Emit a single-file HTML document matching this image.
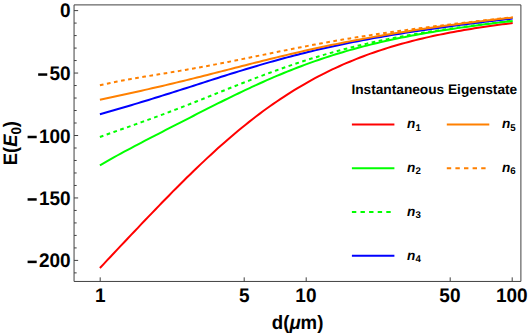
<!DOCTYPE html>
<html><head><meta charset="utf-8"><title>plot</title>
<style>html,body{margin:0;padding:0;background:#fff}svg{display:block}</style></head>
<body>
<svg width="528" height="334" viewBox="0 0 528 334">
<rect width="528" height="334" fill="#fff"/>
<g fill="none" stroke-width="2.0" stroke-linejoin="round">
<path d="M99.9,268.01 L103.4,264.32 L106.8,260.62 L110.3,256.94 L113.8,253.25 L117.2,249.57 L120.7,245.89 L124.2,242.22 L127.7,238.55 L131.1,234.89 L134.6,231.23 L138.1,227.58 L141.5,223.94 L145.0,220.31 L148.5,216.68 L151.9,213.07 L155.4,209.46 L158.9,205.88 L162.3,202.30 L165.8,198.74 L169.3,195.20 L172.7,191.68 L176.2,188.18 L179.7,184.71 L183.2,181.25 L186.6,177.82 L190.1,174.42 L193.6,171.05 L197.0,167.70 L200.5,164.39 L204.0,161.11 L207.4,157.86 L210.9,154.65 L214.4,151.47 L217.8,148.33 L221.3,145.23 L224.8,142.16 L228.2,139.14 L231.7,136.16 L235.2,133.22 L238.7,130.32 L242.1,127.47 L245.6,124.66 L249.1,121.90 L252.5,119.18 L256.0,116.51 L259.5,113.88 L262.9,111.31 L266.4,108.77 L269.9,106.29 L273.3,103.85 L276.8,101.46 L280.3,99.11 L283.8,96.82 L287.2,94.57 L290.7,92.36 L294.2,90.21 L297.6,88.10 L301.1,86.03 L304.6,84.01 L308.0,82.04 L311.5,80.11 L315.0,78.23 L318.4,76.39 L321.9,74.60 L325.4,72.84 L328.8,71.13 L332.3,69.47 L335.8,67.84 L339.3,66.25 L342.7,64.70 L346.2,63.20 L349.7,61.73 L353.1,60.30 L356.6,58.90 L360.1,57.54 L363.5,56.22 L367.0,54.93 L370.5,53.68 L373.9,52.46 L377.4,51.27 L380.9,50.11 L384.4,48.99 L387.8,47.89 L391.3,46.83 L394.8,45.79 L398.2,44.78 L401.7,43.80 L405.2,42.85 L408.6,41.92 L412.1,41.02 L415.6,40.14 L419.0,39.28 L422.5,38.45 L426.0,37.64 L429.4,36.85 L432.9,36.09 L436.4,35.34 L439.9,34.62 L443.3,33.91 L446.8,33.22 L450.3,32.55 L453.7,31.90 L457.2,31.27 L460.7,30.65 L464.1,30.05 L467.6,29.46 L471.1,28.89 L474.5,28.33 L478.0,27.79 L481.5,27.26 L484.9,26.74 L488.4,26.24 L491.9,25.75 L495.4,25.27 L498.8,24.80 L502.3,24.35 L505.8,23.90 L509.2,23.47 L512.7,23.04" stroke="#ff0000"/>
<path d="M99.9,165.46 L103.4,163.39 L106.8,161.37 L110.3,159.38 L113.8,157.43 L117.2,155.50 L120.7,153.60 L124.2,151.72 L127.7,149.86 L131.1,148.01 L134.6,146.18 L138.1,144.36 L141.5,142.54 L145.0,140.73 L148.5,138.93 L151.9,137.14 L155.4,135.35 L158.9,133.56 L162.3,131.77 L165.8,129.98 L169.3,128.20 L172.7,126.41 L176.2,124.63 L179.7,122.85 L183.2,121.07 L186.6,119.29 L190.1,117.52 L193.6,115.74 L197.0,113.97 L200.5,112.21 L204.0,110.44 L207.4,108.69 L210.9,106.94 L214.4,105.19 L217.8,103.45 L221.3,101.73 L224.8,100.01 L228.2,98.30 L231.7,96.60 L235.2,94.92 L238.7,93.25 L242.1,91.59 L245.6,89.95 L249.1,88.32 L252.5,86.71 L256.0,85.11 L259.5,83.53 L262.9,81.97 L266.4,80.44 L269.9,78.92 L273.3,77.42 L276.8,75.94 L280.3,74.48 L283.8,73.04 L287.2,71.63 L290.7,70.24 L294.2,68.87 L297.6,67.52 L301.1,66.20 L304.6,64.90 L308.0,63.63 L311.5,62.38 L315.0,61.15 L318.4,59.94 L321.9,58.76 L325.4,57.61 L328.8,56.47 L332.3,55.36 L335.8,54.27 L339.3,53.21 L342.7,52.17 L346.2,51.15 L349.7,50.15 L353.1,49.18 L356.6,48.23 L360.1,47.29 L363.5,46.38 L367.0,45.49 L370.5,44.62 L373.9,43.77 L377.4,42.94 L380.9,42.13 L384.4,41.33 L387.8,40.56 L391.3,39.80 L394.8,39.06 L398.2,38.33 L401.7,37.63 L405.2,36.93 L408.6,36.26 L412.1,35.59 L415.6,34.95 L419.0,34.31 L422.5,33.69 L426.0,33.08 L429.4,32.49 L432.9,31.91 L436.4,31.34 L439.9,30.78 L443.3,30.23 L446.8,29.69 L450.3,29.16 L453.7,28.64 L457.2,28.13 L460.7,27.63 L464.1,27.14 L467.6,26.66 L471.1,26.18 L474.5,25.71 L478.0,25.25 L481.5,24.80 L484.9,24.35 L488.4,23.91 L491.9,23.48 L495.4,23.05 L498.8,22.63 L502.3,22.22 L505.8,21.81 L509.2,21.40 L512.7,21.00" stroke="#00ff00"/>
<path d="M99.9,137.04 L103.4,135.76 L106.8,134.50 L110.3,133.26 L113.8,132.02 L117.2,130.79 L120.7,129.56 L124.2,128.34 L127.7,127.11 L131.1,125.89 L134.6,124.66 L138.1,123.42 L141.5,122.18 L145.0,120.94 L148.5,119.68 L151.9,118.42 L155.4,117.15 L158.9,115.87 L162.3,114.58 L165.8,113.28 L169.3,111.97 L172.7,110.66 L176.2,109.33 L179.7,108.00 L183.2,106.66 L186.6,105.31 L190.1,103.95 L193.6,102.58 L197.0,101.22 L200.5,99.84 L204.0,98.46 L207.4,97.08 L210.9,95.70 L214.4,94.31 L217.8,92.93 L221.3,91.54 L224.8,90.16 L228.2,88.78 L231.7,87.40 L235.2,86.03 L238.7,84.66 L242.1,83.30 L245.6,81.94 L249.1,80.60 L252.5,79.26 L256.0,77.93 L259.5,76.62 L262.9,75.31 L266.4,74.02 L269.9,72.74 L273.3,71.47 L276.8,70.21 L280.3,68.98 L283.8,67.75 L287.2,66.54 L290.7,65.35 L294.2,64.18 L297.6,63.02 L301.1,61.88 L304.6,60.75 L308.0,59.65 L311.5,58.56 L315.0,57.49 L318.4,56.44 L321.9,55.41 L325.4,54.39 L328.8,53.40 L332.3,52.42 L335.8,51.46 L339.3,50.52 L342.7,49.59 L346.2,48.69 L349.7,47.80 L353.1,46.93 L356.6,46.08 L360.1,45.25 L363.5,44.43 L367.0,43.63 L370.5,42.84 L373.9,42.08 L377.4,41.32 L380.9,40.59 L384.4,39.86 L387.8,39.16 L391.3,38.47 L394.8,37.79 L398.2,37.12 L401.7,36.47 L405.2,35.84 L408.6,35.21 L412.1,34.60 L415.6,34.00 L419.0,33.41 L422.5,32.83 L426.0,32.26 L429.4,31.71 L432.9,31.16 L436.4,30.62 L439.9,30.10 L443.3,29.58 L446.8,29.07 L450.3,28.57 L453.7,28.07 L457.2,27.59 L460.7,27.11 L464.1,26.64 L467.6,26.18 L471.1,25.72 L474.5,25.27 L478.0,24.82 L481.5,24.39 L484.9,23.95 L488.4,23.53 L491.9,23.10 L495.4,22.69 L498.8,22.28 L502.3,21.87 L505.8,21.47 L509.2,21.08 L512.7,20.69" stroke="#00ff00" stroke-dasharray="3.7,3.5"/>
<path d="M99.9,114.23 L103.4,113.24 L106.8,112.25 L110.3,111.25 L113.8,110.26 L117.2,109.25 L120.7,108.25 L124.2,107.23 L127.7,106.22 L131.1,105.19 L134.6,104.16 L138.1,103.12 L141.5,102.08 L145.0,101.02 L148.5,99.96 L151.9,98.90 L155.4,97.82 L158.9,96.75 L162.3,95.66 L165.8,94.57 L169.3,93.48 L172.7,92.38 L176.2,91.27 L179.7,90.16 L183.2,89.05 L186.6,87.94 L190.1,86.83 L193.6,85.71 L197.0,84.60 L200.5,83.48 L204.0,82.36 L207.4,81.25 L210.9,80.14 L214.4,79.03 L217.8,77.93 L221.3,76.82 L224.8,75.73 L228.2,74.64 L231.7,73.55 L235.2,72.47 L238.7,71.40 L242.1,70.34 L245.6,69.28 L249.1,68.23 L252.5,67.20 L256.0,66.17 L259.5,65.15 L262.9,64.14 L266.4,63.14 L269.9,62.15 L273.3,61.18 L276.8,60.21 L280.3,59.26 L283.8,58.32 L287.2,57.39 L290.7,56.47 L294.2,55.56 L297.6,54.67 L301.1,53.79 L304.6,52.93 L308.0,52.07 L311.5,51.23 L315.0,50.40 L318.4,49.58 L321.9,48.78 L325.4,47.99 L328.8,47.21 L332.3,46.44 L335.8,45.69 L339.3,44.94 L342.7,44.21 L346.2,43.49 L349.7,42.79 L353.1,42.09 L356.6,41.41 L360.1,40.73 L363.5,40.07 L367.0,39.41 L370.5,38.77 L373.9,38.14 L377.4,37.52 L380.9,36.90 L384.4,36.30 L387.8,35.70 L391.3,35.12 L394.8,34.54 L398.2,33.97 L401.7,33.41 L405.2,32.85 L408.6,32.30 L412.1,31.76 L415.6,31.23 L419.0,30.71 L422.5,30.19 L426.0,29.68 L429.4,29.17 L432.9,28.67 L436.4,28.17 L439.9,27.68 L443.3,27.20 L446.8,26.72 L450.3,26.25 L453.7,25.78 L457.2,25.32 L460.7,24.86 L464.1,24.41 L467.6,23.96 L471.1,23.52 L474.5,23.08 L478.0,22.65 L481.5,22.22 L484.9,21.79 L488.4,21.37 L491.9,20.96 L495.4,20.55 L498.8,20.15 L502.3,19.75 L505.8,19.36 L509.2,18.97 L512.7,18.59" stroke="#0000ff"/>
<path d="M99.9,99.82 L103.4,99.05 L106.8,98.28 L110.3,97.51 L113.8,96.75 L117.2,95.99 L120.7,95.24 L124.2,94.48 L127.7,93.72 L131.1,92.96 L134.6,92.20 L138.1,91.43 L141.5,90.66 L145.0,89.89 L148.5,89.11 L151.9,88.32 L155.4,87.53 L158.9,86.73 L162.3,85.92 L165.8,85.11 L169.3,84.29 L172.7,83.47 L176.2,82.64 L179.7,81.80 L183.2,80.95 L186.6,80.11 L190.1,79.25 L193.6,78.39 L197.0,77.53 L200.5,76.66 L204.0,75.78 L207.4,74.91 L210.9,74.03 L214.4,73.14 L217.8,72.26 L221.3,71.37 L224.8,70.48 L228.2,69.60 L231.7,68.71 L235.2,67.82 L238.7,66.93 L242.1,66.05 L245.6,65.16 L249.1,64.28 L252.5,63.40 L256.0,62.53 L259.5,61.66 L262.9,60.79 L266.4,59.93 L269.9,59.07 L273.3,58.22 L276.8,57.37 L280.3,56.53 L283.8,55.70 L287.2,54.87 L290.7,54.05 L294.2,53.24 L297.6,52.44 L301.1,51.64 L304.6,50.85 L308.0,50.07 L311.5,49.30 L315.0,48.53 L318.4,47.78 L321.9,47.03 L325.4,46.29 L328.8,45.57 L332.3,44.85 L335.8,44.13 L339.3,43.43 L342.7,42.74 L346.2,42.05 L349.7,41.38 L353.1,40.71 L356.6,40.05 L360.1,39.40 L363.5,38.76 L367.0,38.13 L370.5,37.50 L373.9,36.89 L377.4,36.28 L380.9,35.68 L384.4,35.09 L387.8,34.50 L391.3,33.92 L394.8,33.35 L398.2,32.79 L401.7,32.23 L405.2,31.68 L408.6,31.14 L412.1,30.61 L415.6,30.08 L419.0,29.55 L422.5,29.04 L426.0,28.53 L429.4,28.02 L432.9,27.52 L436.4,27.03 L439.9,26.54 L443.3,26.06 L446.8,25.59 L450.3,25.11 L453.7,24.65 L457.2,24.19 L460.7,23.74 L464.1,23.29 L467.6,22.84 L471.1,22.41 L474.5,21.97 L478.0,21.55 L481.5,21.13 L484.9,20.71 L488.4,20.30 L491.9,19.90 L495.4,19.50 L498.8,19.11 L502.3,18.72 L505.8,18.34 L509.2,17.97 L512.7,17.61" stroke="#ff8000"/>
<path d="M99.9,85.32 L103.4,84.48 L106.8,83.68 L110.3,82.92 L113.8,82.19 L117.2,81.49 L120.7,80.82 L124.2,80.17 L127.7,79.54 L131.1,78.93 L134.6,78.33 L138.1,77.74 L141.5,77.16 L145.0,76.59 L148.5,76.02 L151.9,75.46 L155.4,74.89 L158.9,74.33 L162.3,73.76 L165.8,73.19 L169.3,72.62 L172.7,72.05 L176.2,71.46 L179.7,70.88 L183.2,70.28 L186.6,69.68 L190.1,69.08 L193.6,68.46 L197.0,67.84 L200.5,67.21 L204.0,66.57 L207.4,65.93 L210.9,65.27 L214.4,64.61 L217.8,63.95 L221.3,63.28 L224.8,62.60 L228.2,61.91 L231.7,61.22 L235.2,60.53 L238.7,59.83 L242.1,59.13 L245.6,58.43 L249.1,57.72 L252.5,57.01 L256.0,56.30 L259.5,55.59 L262.9,54.88 L266.4,54.17 L269.9,53.46 L273.3,52.75 L276.8,52.05 L280.3,51.34 L283.8,50.64 L287.2,49.95 L290.7,49.26 L294.2,48.57 L297.6,47.89 L301.1,47.21 L304.6,46.54 L308.0,45.87 L311.5,45.21 L315.0,44.56 L318.4,43.91 L321.9,43.28 L325.4,42.64 L328.8,42.02 L332.3,41.40 L335.8,40.79 L339.3,40.19 L342.7,39.60 L346.2,39.01 L349.7,38.43 L353.1,37.86 L356.6,37.30 L360.1,36.74 L363.5,36.20 L367.0,35.66 L370.5,35.12 L373.9,34.60 L377.4,34.08 L380.9,33.56 L384.4,33.06 L387.8,32.56 L391.3,32.06 L394.8,31.57 L398.2,31.09 L401.7,30.62 L405.2,30.14 L408.6,29.68 L412.1,29.21 L415.6,28.76 L419.0,28.30 L422.5,27.86 L426.0,27.41 L429.4,26.97 L432.9,26.53 L436.4,26.10 L439.9,25.66 L443.3,25.23 L446.8,24.81 L450.3,24.38 L453.7,23.96 L457.2,23.54 L460.7,23.13 L464.1,22.71 L467.6,22.30 L471.1,21.89 L474.5,21.48 L478.0,21.08 L481.5,20.67 L484.9,20.28 L488.4,19.88 L491.9,19.48 L495.4,19.09 L498.8,18.71 L502.3,18.32 L505.8,17.95 L509.2,17.57 L512.7,17.20" stroke="#ff8000" stroke-dasharray="3.7,3.5"/>
</g>
<g fill="none" stroke="#404040" stroke-width="1">
<path d="M74.05,281.45 V4.9 H520.9 V281.45 Z"/>
<path d="M74.05,10.60 h4.1 M74.05,23.09 h2.6 M74.05,35.58 h2.6 M74.05,48.07 h2.6 M74.05,60.56 h2.6 M74.05,73.05 h4.1 M74.05,85.54 h2.6 M74.05,98.03 h2.6 M74.05,110.52 h2.6 M74.05,123.01 h2.6 M74.05,135.50 h4.1 M74.05,147.99 h2.6 M74.05,160.48 h2.6 M74.05,172.97 h2.6 M74.05,185.46 h2.6 M74.05,197.95 h4.1 M74.05,210.44 h2.6 M74.05,222.93 h2.6 M74.05,235.42 h2.6 M74.05,247.91 h2.6 M74.05,260.40 h4.1 M74.05,272.89 h2.6 M100.20,281.45 v-4.1 M244.19,281.45 v-4.1 M306.20,281.45 v-4.1 M450.19,281.45 v-4.1 M512.20,281.45 v-4.1" stroke="#404040"/>
</g>
<g font-family="'Liberation Sans', sans-serif" font-weight="bold" fill="#000" text-rendering="geometricPrecision">
<text transform="translate(70.60,16.70) scale(0.965,1)" font-size="19.7" text-anchor="end">0</text>
<text transform="translate(70.60,80.05) scale(0.965,1)" font-size="19.7" text-anchor="end">50</text>
<rect x="38.16" y="73.30" width="9.1" height="2.5"/>
<text transform="translate(70.60,142.50) scale(0.965,1)" font-size="19.7" text-anchor="end">100</text>
<rect x="27.59" y="135.75" width="9.1" height="2.5"/>
<text transform="translate(70.60,204.95) scale(0.965,1)" font-size="19.7" text-anchor="end">150</text>
<rect x="27.59" y="198.20" width="9.1" height="2.5"/>
<text transform="translate(70.60,267.40) scale(0.965,1)" font-size="19.7" text-anchor="end">200</text>
<rect x="27.59" y="260.65" width="9.1" height="2.5"/>
<text transform="translate(100.20,301.80) scale(0.965,1)" font-size="19.7" text-anchor="middle">1</text>
<text transform="translate(244.19,301.80) scale(0.965,1)" font-size="19.7" text-anchor="middle">5</text>
<text transform="translate(305.90,301.80) scale(0.965,1)" font-size="19.7" text-anchor="middle">10</text>
<text transform="translate(449.89,301.80) scale(0.965,1)" font-size="19.7" text-anchor="middle">50</text>
<text transform="translate(511.80,301.80) scale(0.965,1)" font-size="19.7" text-anchor="middle">100</text>
<text transform="translate(297.60,329.00) scale(0.955,1)" font-size="19.5" text-anchor="middle">d(<tspan font-style="italic">μ</tspan>m)</text>
<text transform="translate(17.40,143.10) rotate(-90) scale(0.94,1)" font-size="19.5" text-anchor="middle">E(<tspan font-style="italic">E</tspan><tspan font-size="14.2" dy="3.7">0</tspan><tspan dy="-3.7">)</tspan></text>
<text transform="translate(351.40,93.70)" font-size="13.7" text-anchor="start">Instantaneous Eigenstate</text>
<text transform="translate(407.10,128.30)" font-size="13.6" text-anchor="start"><tspan font-style="italic">n</tspan><tspan font-size="9.7" dy="2.3">1</tspan></text>
<text transform="translate(407.10,172.07)" font-size="13.6" text-anchor="start"><tspan font-style="italic">n</tspan><tspan font-size="9.7" dy="2.3">2</tspan></text>
<text transform="translate(407.10,215.84)" font-size="13.6" text-anchor="start"><tspan font-style="italic">n</tspan><tspan font-size="9.7" dy="2.3">3</tspan></text>
<text transform="translate(407.10,259.61)" font-size="13.6" text-anchor="start"><tspan font-style="italic">n</tspan><tspan font-size="9.7" dy="2.3">4</tspan></text>
<text transform="translate(502.00,128.30)" font-size="13.6" text-anchor="start"><tspan font-style="italic">n</tspan><tspan font-size="9.7" dy="2.3">5</tspan></text>
<text transform="translate(502.00,172.07)" font-size="13.6" text-anchor="start"><tspan font-style="italic">n</tspan><tspan font-size="9.7" dy="2.3">6</tspan></text>
</g>
<g fill="none" stroke-width="2.0">
<path d="M351.9,124.50 h42.5" stroke="#ff0000"/>
<path d="M351.9,168.27 h42.5" stroke="#00ff00"/>
<path d="M351.9,212.04 h42.5" stroke="#00ff00" stroke-dasharray="4.4,4.2"/>
<path d="M351.9,255.81 h42.5" stroke="#0000ff"/>
<path d="M446.8,124.50 h42.5" stroke="#ff8000"/>
<path d="M446.8,168.27 h42.5" stroke="#ff8000" stroke-dasharray="4.4,4.2"/>
</g>
</svg>
</body></html>
